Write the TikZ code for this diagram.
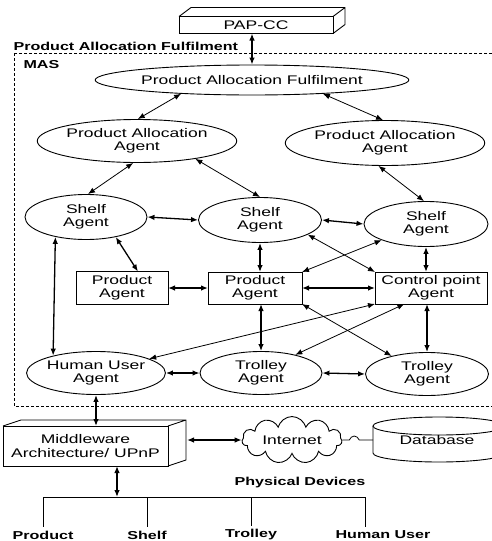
\documentclass[tikz,border=0pt]{standalone}
\usepackage{fontspec}
\setmainfont[FakeStretch=1.4]{Liberation Sans}
\usepackage{tikz}
\usetikzlibrary{shapes,arrows.meta,positioning,calc,decorations.pathmorphing}

\begin{document}
\begin{tikzpicture}[x=1pt,y=-1pt,font=\fontsize{12.5}{13.5}\selectfont,
    agent/.style={draw,ellipse,line width=0.9pt,align=center,inner sep=0pt},
    agentbox/.style={draw,rectangle,line width=0.9pt,align=center,inner sep=0pt,outer sep=0pt},
    link/.style={{Latex[length=7pt,width=5.5pt]}-{Latex[length=7pt,width=5.5pt]},line width=0.8pt},
    biglink/.style={link,line width=1.3pt},
    title/.style={font=\fontsize{11.5}{13}\selectfont\bfseries}]
    \useasboundingbox (0,0) rectangle (491,541);

    % PAP-CC on top
    \node[agentbox,minimum width=154pt,minimum height=17pt] (pap) at (256,25) {PAP-CC};
    \draw[line width=0.9pt] (pap.north west) -- ++(12,-9) -- ++(154,0) -- ([shift={(12,-9)}]pap.south east) -- (pap.south east)
        (pap.north east) -- ++(12,-9);

    % MAS frame
    \node[title,anchor=west] (pafl) at (10,46) {Product Allocation Fulfilment};
    \draw[densely dashed,line width=0.7pt] (14,53) rectangle (520,406);
    \node[title,anchor=west] (mas) at (20,65) {MAS};

    % Agents
    \node[agent,minimum width=247pt,minimum height=30pt] (paf) at (252,80) {Product Allocation Fulfilment};
    \node[agent,minimum width=165pt,minimum height=43pt] (pal) at (137,141) {Product Allocation\\Agent};
    \node[agent,minimum width=176pt,minimum height=45pt] (par) at (385,143) {Product Allocation\\Agent};
    \node[agent,minimum width=122pt,minimum height=45pt] (shl) at (86,217) {Shelf\\Agent};
    \node[agent,minimum width=123pt,minimum height=45pt] (shm) at (260,220) {Shelf\\Agent};
    \node[agent,minimum width=124pt,minimum height=45pt] (shr) at (426,224) {Shelf\\Agent};
    \node[agentbox,minimum width=92pt,minimum height=33pt] (prl) at (122,288) {Product\\Agent};
    \node[agentbox,minimum width=94pt,minimum height=32pt] (prm) at (255,288) {Product\\Agent};
    \node[agentbox,minimum width=112pt,minimum height=32pt] (cp) at (431,288) {Control point\\Agent};
    \node[agent,minimum width=122pt,minimum height=43pt] (hu) at (96,373) {Human User\\Agent};
    \node[agent,minimum width=122pt,minimum height=43pt] (trm) at (261,373) {Trolley\\Agent};
    \node[agent,minimum width=123pt,minimum height=43pt] (trr) at (427,374) {Trolley\\Agent};

    % Allocation links
    \draw[biglink] (pap.south -| paf.north) -- (paf.north);
    \draw[link] (paf.191) -- (pal.88);
    \draw[link] (paf.349) -- (par.95);
    \draw[link] (pal.260) -- (shl.85);
    \draw[link] (pal.343) -- (shm.90);
    \draw[link] (par.254) -- (shr.95);

    % Shelf links
    \draw[biglink] (shl.east) -- (shm.west);
    \draw[biglink] (shm.east) -- (shr.west);
    \draw[biglink] (shl.326) -- (prl.46);
    \draw[biglink] (shl.213) -- (hu.158);
    \draw[biglink] (shm.south) -- (shm.south |- prm.north);
    \draw[biglink] (shr.south) -- (shr.south |- cp.north);
    \draw[link] (shm.343) -- (cp.north west);
    \draw[link] (shr.200) -- (prm.north east);

    % Product and trolley links
    \draw[biglink] (prl.east) -- (prm.west);
    \draw[biglink] (prm.east) -- (cp.west);
    \draw[biglink] (prm.south -| trm.north) -- (trm.north);
    \draw[biglink] (cp.south -| trr.north) -- (trr.north);
    \draw[link] (prm.south east) -- (trr.153);
    \draw[link] (cp.south west) -- (hu.15);
    \draw[link] (cp.211) -- (trm.28);
    \draw[biglink] (hu.east) -- (trm.west);
    \draw[biglink] (trm.east) -- (trr.west);

    % Middleware
    \node[agentbox,minimum width=165pt,minimum height=40pt] (mw) at (85.5,446) {Middleware\\Architecture/ UPnP};
    \draw[line width=0.9pt] (mw.north west) -- ++(18,-6) -- ++(165,0) -- ([shift={(18,-6)}]mw.south east) -- (mw.south east)
        (mw.north east) -- ++(18,-6);
    \draw[biglink] (hu.south) -- (hu.south |- mw.north);

    % Internet and database
    \node[cloud,draw,line width=0.9pt,cloud puffs=11,aspect=2.8,minimum width=100pt,minimum height=36pt,inner sep=0pt] (net) at (292,440) {Internet};
    \coordinate (mwface) at ([xshift=19pt]mw.east);
    \draw[biglink] (mwface |- net.west) -- (net.west);
    \node (db) at (437,440) {Database};
    \draw[line width=0.9pt] (439,426) ellipse [x radius=66pt,y radius=9pt];
    \draw[line width=0.9pt] (373,426) -- (373,453) arc[start angle=180,end angle=360,x radius=66pt,y radius=9pt] -- (505,426);
    \coordinate (dbside) at (373,440);
    \draw[line width=0.8pt,decorate,decoration={coil,amplitude=4pt,segment length=12pt,pre length=7pt,post length=7pt}] (net.east) -- (dbside);

    % Physical devices
    \node[title] (physd) at (300,483) {Physical Devices};
    \coordinate (bus) at (117,497);
    \coordinate (tap) at (365,497);
    \draw[biglink] (mw.south -| bus) -- (bus);
    \node[title] (dprod) at (43,535) {Product};
    \node[title] (dshelf) at (147,535) {Shelf};
    \node[title] (dtrol) at (251,535) {Trolley};
    \node[title] (dhum) at (383,535) {Human User};
    \draw[line width=0.9pt] (dprod.north |- bus) -- (tap) -- (tap |- dhum.north);
    \foreach \d in {dprod,dshelf,dtrol}
        \draw[line width=0.9pt] (\d.north |- bus) -- (\d.north);
\end{tikzpicture}
\end{document}
